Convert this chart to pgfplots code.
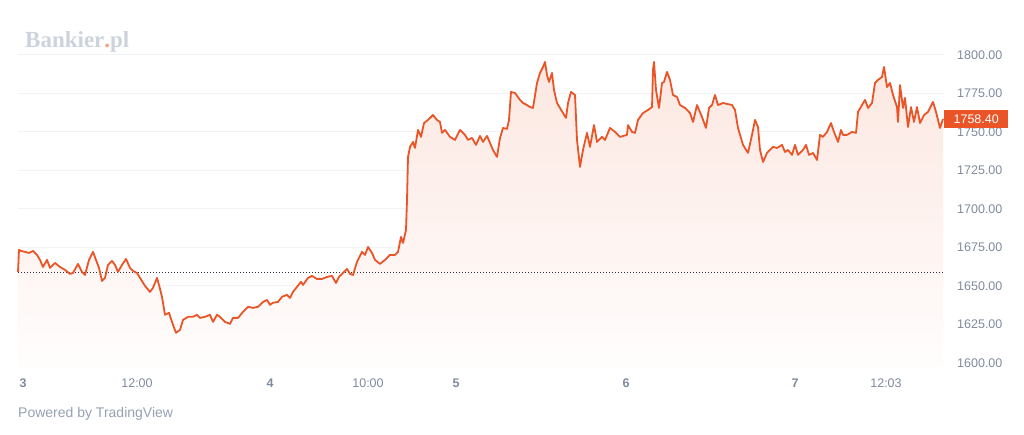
\documentclass[border=0pt]{standalone}
\usepackage{pgfplots}
\pgfplotsset{compat=1.18}
\usepackage{pgfplotstable}
\usepackage{fontspec}
\setmainfont{Liberation Sans}
\newfontfamily\logofont{Liberation Serif}
\definecolor{lineC}{RGB}{234,84,38}
\definecolor{gridC}{RGB}{241,243,246}
\definecolor{tickC}{RGB}{128,138,158}
\definecolor{logoC}{RGB}{205,211,220}
\definecolor{closeC}{RGB}{40,48,66}
\definecolor{powC}{RGB}{150,160,178}

\pgfplotstableread{
x y
18 1659.1
19 1673.4
21 1672.7
25 1672.1
29 1671.4
33 1672.7
37 1670.1
40 1666.9
43 1662.3
47 1666.9
50 1661.7
55 1664.9
60 1662.3
65 1660.4
70 1657.8
73 1658.4
78 1664.3
82 1659.1
85 1657.1
89 1666.9
93 1672.1
96 1666.9
99 1661.7
102 1653.2
105 1655.2
108 1663.6
112 1666.2
115 1663.6
118 1659.1
122 1663.6
126 1667.5
130 1661.7
133 1659.7
137 1658.4
140 1655.2
145 1650.0
150 1646.1
153 1648.7
157 1655.2
159 1650.6
162 1642.9
165 1631.2
169 1632.5
173 1624.7
176 1619.5
180 1621.4
183 1627.9
188 1629.9
193 1629.9
197 1631.2
200 1629.2
205 1629.9
210 1631.2
213 1626.6
217 1631.2
220 1629.9
225 1626.6
230 1625.3
233 1629.2
238 1629.2
243 1633.1
248 1636.4
253 1635.7
258 1636.4
263 1639.6
267 1640.9
270 1637.7
273 1639.0
278 1639.6
282 1642.9
287 1644.2
290 1642.2
293 1646.1
297 1649.4
301 1652.6
303 1650.6
308 1655.2
312 1656.5
317 1654.5
322 1654.5
327 1655.8
332 1656.5
336 1651.9
339 1655.8
343 1658.4
347 1661.0
350 1657.8
353 1657.1
357 1665.6
362 1672.1
365 1670.1
368 1675.3
372 1671.4
375 1666.9
380 1664.3
385 1666.9
390 1670.1
395 1670.1
398 1672.1
401 1681.8
403 1677.9
406 1686.4
407 1705.8
408 1733.8
410 1740.3
413 1743.5
415 1739.6
418 1751.3
421 1746.8
424 1755.8
428 1757.8
433 1761.0
437 1757.8
440 1756.5
442 1749.4
445 1751.3
450 1746.8
455 1744.8
460 1751.3
465 1748.1
468 1744.8
472 1746.1
476 1741.6
480 1747.4
483 1743.5
487 1747.4
490 1742.9
493 1738.3
497 1733.8
500 1746.1
503 1752.6
507 1752.0
509 1757.8
511 1776.0
515 1775.3
520 1770.8
523 1768.8
527 1767.5
530 1766.2
533 1765.6
537 1781.8
540 1788.3
543 1792.2
545 1795.5
547 1787.0
549 1782.5
552 1788.3
554 1777.3
557 1768.8
560 1765.6
563 1762.3
566 1759.1
568 1768.8
571 1776.0
575 1774.0
577 1744.8
580 1727.3
583 1738.3
587 1749.4
590 1740.3
594 1754.5
597 1743.5
602 1746.8
605 1744.8
610 1752.6
615 1750.0
620 1746.8
627 1748.1
628 1754.5
632 1750.0
635 1749.4
638 1757.8
643 1762.3
648 1764.3
652 1766.2
653 1790.3
654 1795.5
656 1777.3
659 1765.6
662 1781.8
664 1782.5
667 1789.0
670 1783.8
673 1774.0
677 1772.7
680 1767.5
685 1765.6
690 1762.3
693 1756.5
697 1767.5
702 1759.7
706 1752.6
709 1765.6
712 1767.5
715 1774.0
718 1767.5
723 1768.8
732 1767.5
735 1764.3
738 1752.6
743 1741.6
748 1736.4
752 1748.1
755 1757.8
758 1753.2
760 1738.3
763 1730.5
767 1736.4
770 1738.3
773 1740.3
777 1739.6
782 1741.6
785 1737.0
788 1738.3
792 1735.1
795 1741.6
798 1735.1
803 1738.3
806 1741.6
809 1735.1
813 1736.4
817 1731.8
820 1748.1
823 1746.8
827 1750.0
831 1755.8
834 1750.0
838 1743.5
841 1751.3
843 1748.1
847 1748.1
852 1750.0
856 1749.4
858 1763.0
862 1767.5
865 1770.8
868 1765.6
872 1768.8
875 1781.8
878 1783.8
882 1785.7
884 1792.2
887 1779.2
890 1781.8
893 1774.0
897 1766.2
898 1756.5
900 1780.5
903 1765.6
905 1772.1
908 1753.2
911 1766.2
914 1756.5
917 1766.2
920 1755.8
924 1761.0
928 1763.0
933 1769.5
936 1763.0
940 1752.6
943 1758.4
}\price

\begin{document}
\begin{tikzpicture}
\begin{axis}[
  at={(18pt,66pt)}, anchor=south west,
  scale only axis, width=926pt, height=329.4pt,
  xmin=18, xmax=944, ymin=1596, ymax=1810,
  clip=false,
  axis line style={draw=none},
  major tick length=0pt,
  ymajorgrids, grid style={gridC, line width=1pt},
  ytick={1600,1625,...,1800},
  yticklabel pos=right,
  yticklabel style={anchor=west, inner sep=0pt, xshift=13pt, text=tickC,
    /pgf/number format/.cd, fixed, fixed zerofill, precision=2, 1000 sep={}, assume math mode=true},
  xtick={23,137,270,368,456,626,795,886},
  xticklabels={\textbf{3},12:00,\textbf{4},10:00,\textbf{5},\textbf{6},\textbf{7},12:03},
  xticklabel style={anchor=center, inner sep=0pt, yshift=-14pt, text=tickC},
  tick label style={font=\fontsize{12.5}{15}\selectfont},
]
\addplot[draw=none, top color=lineC!14, bottom color=lineC!1, forget plot] table[x=x,y=y]{\price} -- (axis cs:943,1596) -- (axis cs:18,1596) -- cycle;
\addplot[closeC, line width=1pt, dash pattern=on 1.2pt off 1.8pt, forget plot] coordinates {(18,1658.6) (944,1658.6)};
\addplot[lineC, line width=1.8pt, line join=round, forget plot] table[x=x,y=y]{\price};
\node[fill=lineC, text=white, anchor=west, inner sep=0pt, minimum width=64pt, minimum height=18pt,
  font=\fontsize{12.5}{15}\selectfont] at (axis cs:944,1758.4) {1758.40};
\end{axis}
\node[anchor=base west, inner sep=0pt, text=logoC, font=\logofont\bfseries\fontsize{23}{26}\selectfont] at (25pt,387pt) {Bankier\textcolor{lineC!55}{.}pl};
\node[anchor=base west, inner sep=0pt, text=powC, font=\fontsize{14}{16}\selectfont] at (18pt,17pt) {Powered by TradingView};
\path (0pt,0pt) rectangle (1024pt,435pt);
\end{tikzpicture}
\end{document}
